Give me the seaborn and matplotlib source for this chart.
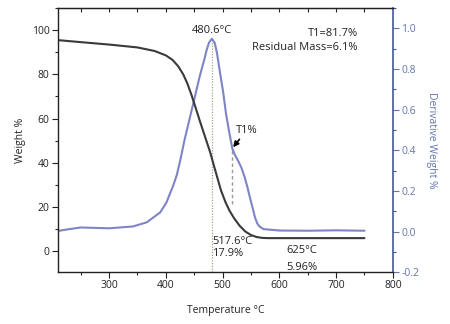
import matplotlib
matplotlib.use("Agg")
import matplotlib.pyplot as plt
import seaborn as sns
import pandas as pd
from matplotlib.ticker import MultipleLocator, NullFormatter

# ---- data ----
tga_temp = [210, 250, 300, 350, 380, 400, 412, 422, 431, 438, 445, 452, 460, 468, 478,
            487, 497, 505, 512, 520, 530, 540, 550, 560, 570, 580, 650, 750]
tga_weight = [95.5, 94.6, 93.5, 92.2, 90.6, 88.6, 86.5, 83.6, 79.8, 75.8, 70.8, 65.3,
              58.8, 52.6, 44.8, 36.6, 27.6, 22.2, 18.4, 15.0, 11.5, 8.9, 7.3, 6.4,
              6.0, 5.9, 5.9, 5.9]

dtg_temp = [210, 230, 250, 300, 342, 366, 390, 401, 413, 419, 426, 432, 439, 446, 453,
            460, 468, 472, 476, 481, 486, 490, 495, 501, 506, 511, 517, 522, 527, 533,
            539, 544, 548, 553, 557, 561, 565, 572, 600, 650, 700, 750]
dtg_deriv = [0.003, 0.012, 0.02, 0.016, 0.025, 0.045, 0.094, 0.143, 0.227, 0.276, 0.358,
             0.44, 0.522, 0.604, 0.686, 0.768, 0.85, 0.895, 0.93, 0.949, 0.93, 0.88,
             0.79, 0.686, 0.58, 0.5, 0.41, 0.375, 0.35, 0.315, 0.267, 0.215, 0.169,
             0.115, 0.07, 0.04, 0.025, 0.012, 0.005, 0.004, 0.006, 0.004]

peak_temp = 480.6
t1_temp = 517.0
t1_deriv = 0.41
t1_line_bottom = 0.138

x_ticks = [300, 400, 500, 600, 700, 800]
y_ticks = [0, 20, 40, 60, 80, 100]
y2_ticks = [-0.2, 0.0, 0.2, 0.4, 0.6, 0.8, 1.0]

tga_df = pd.DataFrame({"Temperature": tga_temp, "Weight": tga_weight})
dtg_df = pd.DataFrame({"Temperature": dtg_temp, "Deriv": dtg_deriv})

sns.set_style("white")
plt.rcParams["font.family"] = ["Open Sans", "DejaVu Sans"]

BLACK = "#3a3a3a"
BLUE_LINE = "#7e84c6"
BLUE_AX = "#43589a"
BLUE_TXT = "#6575ad"

fig = plt.figure(figsize=(4.5, 3.24), dpi=100)
ax = fig.add_axes([0.129, 0.160, 0.744, 0.815])
ax2 = ax.twinx()

sns.lineplot(data=dtg_df, x="Temperature", y="Deriv", ax=ax2, color=BLUE_LINE,
             linewidth=1.5, sort=False)
sns.lineplot(data=tga_df, x="Temperature", y="Weight", ax=ax, color=BLACK,
             linewidth=1.5, sort=False)
for line in ax.lines + ax2.lines:
    line.set_solid_joinstyle("round")
    line.set_solid_capstyle("round")
ax.set_zorder(ax2.get_zorder() + 1)
ax.patch.set_visible(False)

ax.set_xlim(210, 800)
ax.set_ylim(-9.5, 110)
ax2.set_ylim(-0.2, 1.1)

ax.set_xticks(x_ticks)
ax.set_yticks(y_ticks)
ax2.set_yticks(y2_ticks)
ax2.set_yticklabels([f"{v:.1f}" for v in y2_ticks])
ax.xaxis.set_minor_locator(MultipleLocator(50))
ax.yaxis.set_minor_locator(MultipleLocator(10))
ax2.yaxis.set_minor_locator(MultipleLocator(0.1))

ax.tick_params(axis="both", which="major", direction="out", length=4, width=0.8,
               labelsize=7.5, colors="#222222", pad=2)
ax.tick_params(axis="both", which="minor", direction="out", length=2.5, width=0.8)
ax.tick_params(axis="x", bottom=True, which="both")
ax.tick_params(axis="y", left=True, which="both")
ax2.tick_params(axis="y", which="major", direction="out", length=4, width=0.8,
                labelsize=7.5, colors=BLUE_TXT, pad=2, right=True)
ax2.tick_params(axis="y", which="minor", direction="out", length=2.5, width=0.8,
                colors=BLUE_AX, right=True)
for t in ax2.yaxis.get_ticklines():
    t.set_color(BLUE_AX)

top = ax.secondary_xaxis("top")
top.set_xticks([250, 300, 350, 400, 450, 500, 550, 600, 650, 700, 750])
top.xaxis.set_major_formatter(NullFormatter())
top.tick_params(direction="in", length=3, width=0.8)

for s in ["left", "bottom", "top"]:
    ax.spines[s].set_color("#222222")
    ax.spines[s].set_linewidth(1.0)
ax.spines["right"].set_visible(False)
for s in ["left", "bottom", "top"]:
    ax2.spines[s].set_visible(False)
ax2.spines["right"].set_color(BLUE_AX)
ax2.spines["right"].set_linewidth(1.2)
top.spines["top"].set_color("#222222")

ax.set_xlabel("Temperature °C", fontsize=7.5, color="#222222", labelpad=10)
ax.set_ylabel("Weight %", fontsize=7.5, color="#222222", labelpad=4)
ax2.set_ylabel("Derivative Weight %", fontsize=7.5, color=BLUE_TXT, rotation=270,
               labelpad=13)

# reference lines
ax2.plot([peak_temp, peak_temp], [-0.2, max(dtg_deriv)], linestyle=(0, (1, 1.2)),
         color="#9aa88a", linewidth=0.9, zorder=1)
ax2.plot([t1_temp, t1_temp], [t1_line_bottom, t1_deriv], linestyle=(0, (2.5, 2)),
         color="#9a9a9a", linewidth=1.0, zorder=1)

# annotations
ax2.text(peak_temp, 0.99, "480.6°C", ha="center", va="center", fontsize=8, color="#222222")
ax2.text(738, 0.975, "T1=81.7%", ha="right", va="center", fontsize=8, color="#222222")
ax2.text(738, 0.906, "Residual Mass=6.1%", ha="right", va="center", fontsize=8, color="#222222")
ax2.annotate("T1%", xy=(t1_temp + 1.5, t1_deriv + 0.005), xytext=(523, 0.47),
             fontsize=8, color="#222222", ha="left", va="bottom",
             arrowprops=dict(arrowstyle="-|>", color="black", lw=1.2,
                             mutation_scale=8, shrinkA=0, shrinkB=0))
ax.text(482, 4.5, "517.6°C", ha="left", va="center", fontsize=8, color="#222222")
ax.text(482, -1.0, "17.9%", ha="left", va="center", fontsize=8, color="#222222")
ax.text(613, 0.5, "625°C", ha="left", va="center", fontsize=8, color="#222222")
ax.text(613, -7.3, "5.96%", ha="left", va="center", fontsize=8, color="#222222")

fig.savefig("out.png", dpi=100)
